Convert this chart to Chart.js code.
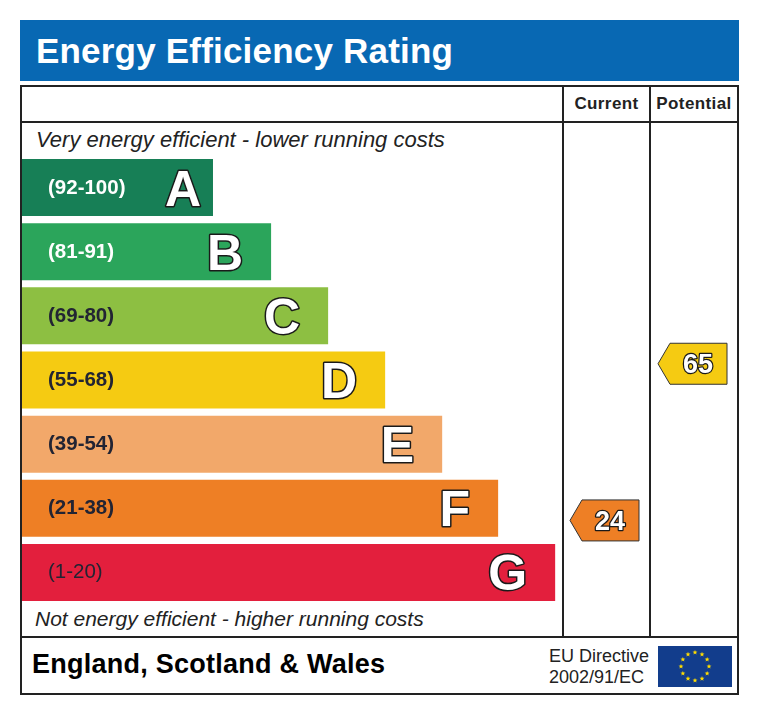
<!DOCTYPE html>
<html>
<head>
<meta charset="utf-8">
<title>Energy Efficiency Rating</title>
<script src="https://cdn.jsdelivr.net/npm/chart.js@4.4.1/dist/chart.umd.min.js"></script>
<style>
    body { margin: 0; background: #fff; font-family: "Liberation Sans", Arial, sans-serif; }
    #wrap { position: relative; width: 760px; height: 715px; overflow: hidden; }
    .abs { position: absolute; }
    #title { left: 20px; top: 20px; width: 719px; height: 61px; background: #0868b3; color: #fff;
             font-weight: bold; font-size: 35px; letter-spacing: 0.2px; line-height: 61px; padding-left: 16px; box-sizing: border-box; }
    #frame { left: 20px; top: 85px; width: 719px; height: 610px; border: 2px solid #222; box-sizing: border-box; }
    .hline { height: 2px; background: #222; }
    .vline { width: 2px; background: #222; }
    .head { top: 87px; height: 34px; line-height: 34px; font-weight: bold; font-size: 17px; letter-spacing: 0.4px; color: #222; text-align: center; }
    .note { font-style: italic; color: #222; height: 24px; line-height: 24px; white-space: nowrap; }
    canvas { position: absolute; left: 0; top: 0; }
</style>
</head>
<body>
<div id="wrap">
    <div id="title" class="abs">Energy Efficiency Rating</div>
    <div id="frame" class="abs"></div>
    <div class="abs hline" style="left:20px; top:121px; width:719px;"></div>
    <div class="abs hline" style="left:20px; top:636px; width:719px;"></div>
    <div class="abs vline" style="left:562px; top:85px; height:552px;"></div>
    <div class="abs vline" style="left:649px; top:85px; height:552px;"></div>
    <div class="abs head" style="left:564px; width:85px;">Current</div>
    <div class="abs head" style="left:651px; width:86px;">Potential</div>
    <div class="abs note" style="left:36px; top:128px; font-size:22px;">Very energy efficient - lower running costs</div>
    <div class="abs note" style="left:35px; top:607px; font-size:21px;">Not energy efficient - higher running costs</div>
    <div class="abs" style="left:32px; top:651px; font-weight:bold; font-size:27px; letter-spacing:0.25px; line-height:27px; color:#000;">England, Scotland &amp; Wales</div>
    <div class="abs" style="left:549px; top:646px; font-size:18px; line-height:20.5px; color:#222;">EU Directive<br>2002/91/EC</div>
    <svg class="abs" id="flag" style="left:658px; top:646px;" width="74" height="41" viewBox="0 0 74 41"></svg>
    <canvas id="bandsChart" width="760" height="715"></canvas>
    <canvas id="ratingChart" width="760" height="715"></canvas>
</div>

<script>
// Bands
const bandLetters = ['A', 'B', 'C', 'D', 'E', 'F', 'G'];
const bandMin = [92, 81, 69, 55, 39, 21, 1];
const bandMax = [100, 91, 80, 68, 54, 38, 20];
const barLengths = [35.5, 46.3, 56.9, 67.5, 78.1, 88.5, 99.1]; // % of the band area

// Ratings
const ratingColumns = ['Current', 'Potential'];
const ratingValues = [24, 65];

const bandColors = ['#177f56', '#2ba55b', '#8dbf42', '#f5cb12', '#f2a86a', '#ee7f25', '#e31f3d'];
const rangeTextColors = ['#fff', '#fff', '#222433', '#222433', '#222433', '#222433', '#222433'];
const FONT = '"Liberation Sans", Arial, sans-serif';

// EU flag (decoration)
(function drawFlag() {
    const svg = document.getElementById('flag');
    let html = '<rect width="74" height="41" fill="#123d8c"/>';
    for (let i = 0; i < 12; i++) {
        const a = i * Math.PI / 6;
        const cx = 37 + 14 * Math.sin(a), cy = 20.5 - 14 * Math.cos(a);
        let pts = [];
        for (let k = 0; k < 10; k++) {
            const r = k % 2 ? 1.1 : 2.6;
            const b = k * Math.PI / 5;
            pts.push((cx + r * Math.sin(b)).toFixed(2) + ',' + (cy - r * Math.cos(b)).toFixed(2));
        }
        html += '<polygon points="' + pts.join(' ') + '" fill="#ffdd00"/>';
    }
    svg.innerHTML = html;
})();

// Range text and big letter inside each bar
const bandLabels = {
    id: 'bandLabels',
    afterDatasetsDraw(chart) {
        const ctx = chart.ctx;
        const meta = chart.getDatasetMeta(0);
        meta.data.forEach((bar, i) => {
            ctx.save();
            ctx.textBaseline = 'alphabetic';
            ctx.textAlign = 'left';
            ctx.fillStyle = rangeTextColors[i];
            ctx.font = (i === 6 ? 'normal' : 'bold') + ' 20.5px ' + FONT;
            ctx.fillText('(' + bandMin[i] + '-' + bandMax[i] + ')', bar.base + 26, bar.y + 6);

            ctx.font = 'bold 50px ' + FONT;
            ctx.textAlign = 'right';
            const lx = bar.x - (i === 0 ? 12 : 28);
            const ly = bar.y + 18;
            ctx.lineWidth = 3;
            ctx.lineJoin = 'round';
            ctx.strokeStyle = '#1a1a1a';
            ctx.strokeText(bandLetters[i], lx, ly);
            ctx.fillStyle = '#fff';
            ctx.fillText(bandLetters[i], lx, ly);
            ctx.restore();
        });
    }
};

new Chart(document.getElementById('bandsChart'), {
    type: 'bar',
    data: {
        labels: bandLetters,
        datasets: [{
            data: barLengths,
            backgroundColor: bandColors,
            borderWidth: 0,
            categoryPercentage: 1,
            barPercentage: 0.889
        }]
    },
    options: {
        indexAxis: 'y',
        responsive: false,
        animation: false,
        layout: { padding: { left: 22, right: 200, top: 155.5, bottom: 110.5 } },
        scales: {
            x: { display: false, min: 0, max: 100 },
            y: { display: false }
        },
        plugins: { legend: { display: false }, tooltip: { enabled: false } }
    },
    plugins: [bandLabels]
});

function bandIndexFor(v) {
    for (let i = 0; i < bandMin.length; i++) {
        if (v >= bandMin[i] && v <= bandMax[i]) return i;
    }
    return bandMin.length - 1;
}

// Arrow markers in the Current / Potential columns
const ratingArrows = {
    id: 'ratingArrows',
    afterDatasetsDraw(chart) {
        const ctx = chart.ctx;
        const meta = chart.getDatasetMeta(0);
        meta.data.forEach((pt, i) => {
            const v = ratingValues[i];
            const x = pt.x, y = pt.y;
            const h = 20.5;
            ctx.save();
            ctx.beginPath();
            ctx.moveTo(x - 36, y);
            ctx.lineTo(x - 24, y - h);
            ctx.lineTo(x + 33, y - h);
            ctx.lineTo(x + 33, y + h);
            ctx.lineTo(x - 24, y + h);
            ctx.closePath();
            ctx.fillStyle = bandColors[bandIndexFor(v)];
            ctx.fill();
            ctx.lineWidth = 1;
            ctx.strokeStyle = '#333';
            ctx.stroke();

            ctx.font = 'bold 27px ' + FONT;
            ctx.textAlign = 'center';
            ctx.textBaseline = 'alphabetic';
            ctx.lineWidth = 2.5;
            ctx.lineJoin = 'round';
            ctx.strokeStyle = '#1a1a1a';
            ctx.strokeText(String(v), x + 4, y + 9.5);
            ctx.fillStyle = '#fff';
            ctx.fillText(String(v), x + 4, y + 9.5);
            ctx.restore();
        });
    }
};

new Chart(document.getElementById('ratingChart'), {
    type: 'scatter',
    data: {
        labels: ratingColumns,
        datasets: [{
            data: ratingColumns.map((c, i) => ({ x: c, y: ratingValues[i] })),
            pointRadius: 0
        }]
    },
    options: {
        responsive: false,
        animation: false,
        layout: { padding: { left: 562, right: 22, top: 155.5, bottom: 110.5 } },
        scales: {
            x: { type: 'category', labels: ratingColumns, offset: true, display: false },
            y: { type: 'linear', min: 2, max: 119.5, display: false }
        },
        plugins: { legend: { display: false }, tooltip: { enabled: false } }
    },
    plugins: [ratingArrows]
});
</script>
</body>
</html>
